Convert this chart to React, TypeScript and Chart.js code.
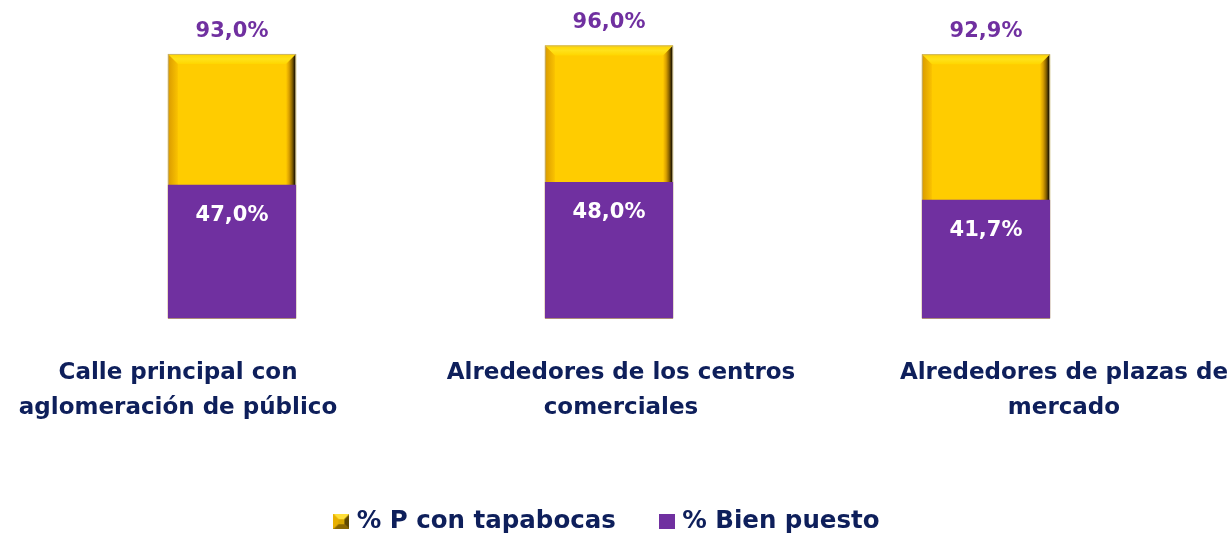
import React, { useEffect, useRef } from 'react';
import { Chart, registerables } from 'chart.js';

Chart.register(...registerables);

// ---- data ----
const categories: string[][] = [
  ['Calle principal con', 'aglomeración de público'],
  ['Alrededores de los centros', 'comerciales'],
  ['Alrededores de plazas de', 'mercado'],
];
const seriesNames = ['% P con tapabocas', '% Bien puesto'];
const conTapabocas = [93.0, 96.0, 92.9];
const bienPuesto = [47.0, 48.0, 41.7];

// ---- styles ----
const YELLOW = '#FFCC00';
const PURPLE = '#7030A0';
const NAVY = '#0E1F5B';
const FONT = "'DejaVu Sans', sans-serif";

const fmt = (v: number) => v.toFixed(1).replace('.', ',') + '%';

function makeIcon(kind: 'bevel' | 'flat'): HTMLCanvasElement {
  const w = 16;
  const h = 15;
  const c = document.createElement('canvas');
  c.width = w;
  c.height = h;
  const g = c.getContext('2d')!;
  if (kind === 'flat') {
    g.fillStyle = PURPLE;
    g.fillRect(0, 0, w, h);
    return c;
  }
  const b = 5;
  g.fillStyle = '#D9A800';
  g.fillRect(0, 0, w, h);
  const poly = (pts: number[][], col: string) => {
    g.beginPath();
    g.moveTo(pts[0][0], pts[0][1]);
    for (let i = 1; i < pts.length; i++) g.lineTo(pts[i][0], pts[i][1]);
    g.closePath();
    g.fillStyle = col;
    g.fill();
  };
  poly([[0, 0], [w, 0], [w - b, b], [b, b]], '#FFDF3A');
  poly([[0, 0], [b, b], [b, h - b], [0, h]], '#E8B000');
  poly([[w, 0], [w, h], [w - b, h - b], [w - b, b]], '#5E4700');
  poly([[0, h], [w, h], [w - b, h - b], [b, h - b]], '#8A6700');
  return c;
}

const bevelPlugin = {
  id: 'bevelBars',
  afterDatasetDraw(chart: any, args: any) {
    if (args.index !== 0) return;
    const ctx = chart.ctx;
    const b = 10;
    args.meta.data.forEach((el: any) => {
      const { x, y, base, width } = el.getProps(['x', 'y', 'base', 'width'], true);
      const l = x - width / 2;
      const r = x + width / 2;
      const t = Math.min(y, base);
      const bt = Math.max(y, base);
      ctx.save();
      const poly = (pts: number[][], fill: any) => {
        ctx.beginPath();
        ctx.moveTo(pts[0][0], pts[0][1]);
        for (let i = 1; i < pts.length; i++) ctx.lineTo(pts[i][0], pts[i][1]);
        ctx.closePath();
        ctx.fillStyle = fill;
        ctx.fill();
      };
      // top bevel
      const gt = ctx.createLinearGradient(0, t, 0, t + b);
      gt.addColorStop(0, '#FFD200');
      gt.addColorStop(0.5, '#FFE21A');
      gt.addColorStop(1, '#FFD600');
      poly([[l, t], [r, t], [r - b, t + b], [l + b, t + b]], gt);
      // left bevel
      const gl = ctx.createLinearGradient(l, 0, l + b, 0);
      gl.addColorStop(0, '#D99A00');
      gl.addColorStop(1, '#FAC200');
      poly([[l, t], [l + b, t + b], [l + b, bt - b], [l, bt]], gl);
      // right bevel
      const gr = ctx.createLinearGradient(r - b, 0, r, 0);
      gr.addColorStop(0, '#FFC800');
      gr.addColorStop(0.3, '#D9A000');
      gr.addColorStop(0.6, '#8A6400');
      gr.addColorStop(0.85, '#2A1E00');
      gr.addColorStop(1, '#6E6650');
      poly([[r, t], [r, bt], [r - b, bt - b], [r - b, t + b]], gr);
      // bottom bevel
      const gb = ctx.createLinearGradient(0, bt - b, 0, bt);
      gb.addColorStop(0, '#E0AA00');
      gb.addColorStop(1, '#8A6700');
      poly([[l, bt], [r, bt], [r - b, bt - b], [l + b, bt - b]], gb);
      // thin outline
      ctx.strokeStyle = 'rgba(190,175,130,0.8)';
      ctx.lineWidth = 1;
      ctx.strokeRect(l + 0.5, t + 0.5, width - 1, bt - t - 1);
      ctx.restore();
    });
  },
};

const valueLabelPlugin = {
  id: 'valueLabels',
  afterDatasetsDraw(chart: any) {
    const ctx = chart.ctx;
    ctx.save();
    ctx.font = `bold 21px ${FONT}`;
    ctx.textAlign = 'center';
    ctx.textBaseline = 'alphabetic';
    chart.data.datasets.forEach((ds: any, di: number) => {
      const meta = chart.getDatasetMeta(di);
      meta.data.forEach((el: any, i: number) => {
        const { x, y } = el.getProps(['x', 'y'], true);
        if (di === 0) {
          ctx.fillStyle = PURPLE;
          ctx.fillText(fmt(ds.data[i]), x, y - 17);
        } else {
          ctx.fillStyle = '#FFFFFF';
          ctx.fillText(fmt(ds.data[i]), x, y + 36);
        }
      });
    });
    ctx.restore();
  },
};

const categoryLabelPlugin = {
  id: 'categoryLabels',
  afterDraw(chart: any, _args: any, opts: any) {
    const ctx = chart.ctx;
    const xs = chart.scales.x;
    const area = chart.chartArea;
    const mid = (area.left + area.right) / 2;
    ctx.save();
    ctx.font = `bold ${opts.size}px ${FONT}`;
    ctx.fillStyle = NAVY;
    ctx.textAlign = 'center';
    ctx.textBaseline = 'alphabetic';
    categories.forEach((lines, i) => {
      const bx = xs.getPixelForValue(i);
      const lx = mid + (bx - mid) * opts.spread + opts.shift;
      lines.forEach((line, j) => {
        ctx.fillText(line, lx, area.bottom + opts.firstBaseline + j * opts.lineGap);
      });
    });
    ctx.restore();
  },
};

export default function App() {
  const ref = useRef<HTMLCanvasElement | null>(null);

  useEffect(() => {
    if (!ref.current) return;
    const icons = [makeIcon('bevel'), makeIcon('flat')];
    const chart = new Chart(ref.current, {
      type: 'bar',
      data: {
        labels: categories,
        datasets: [
          {
            label: seriesNames[0],
            data: conTapabocas,
            backgroundColor: YELLOW,
            order: 2,
            grouped: false,
            barPercentage: 0.85,
            categoryPercentage: 0.4,
          } as any,
          {
            label: seriesNames[1],
            data: bienPuesto,
            backgroundColor: PURPLE,
            order: 1,
            grouped: false,
            barPercentage: 0.85,
            categoryPercentage: 0.4,
          } as any,
        ],
      },
      options: {
        responsive: false,
        animation: false,
        layout: { padding: { left: 43.5, right: 57.5, top: 34, bottom: -9 } },
        scales: {
          x: {
            display: true,
            grid: { display: false },
            border: { display: false },
            ticks: { display: false },
            afterFit: (scale: any) => {
              scale.height = 143;
            },
          },
          y: { display: false, min: 0, max: 100 },
        },
        plugins: {
          tooltip: { enabled: false },
          legend: {
            display: true,
            position: 'bottom',
            labels: {
              usePointStyle: true,
              boxWidth: 6,
              boxHeight: 15,
              padding: 48,
              color: NAVY,
              font: { family: FONT, size: 24.5, weight: 'bold' },
              generateLabels: (chart: any) =>
                chart.data.datasets.map((ds: any, i: number) => ({
                  text: ds.label,
                  fillStyle: ds.backgroundColor,
                  strokeStyle: ds.backgroundColor,
                  lineWidth: 0,
                  hidden: false,
                  datasetIndex: i,
                  pointStyle: icons[i],
                  fontColor: NAVY,
                })),
            },
          },
          categoryLabels: { size: 23, spread: 1.175, shift: 12, firstBaseline: 60, lineGap: 35 },
        } as any,
      },
      plugins: [bevelPlugin, valueLabelPlugin, categoryLabelPlugin],
    });
    return () => chart.destroy();
  }, []);

  return (
    <div style={{ position: 'absolute', left: 0, top: 0, width: 1232, height: 535, background: '#fff' }}>
      <canvas ref={ref} width={1232} height={535} style={{ display: 'block' }} />
    </div>
  );
}
